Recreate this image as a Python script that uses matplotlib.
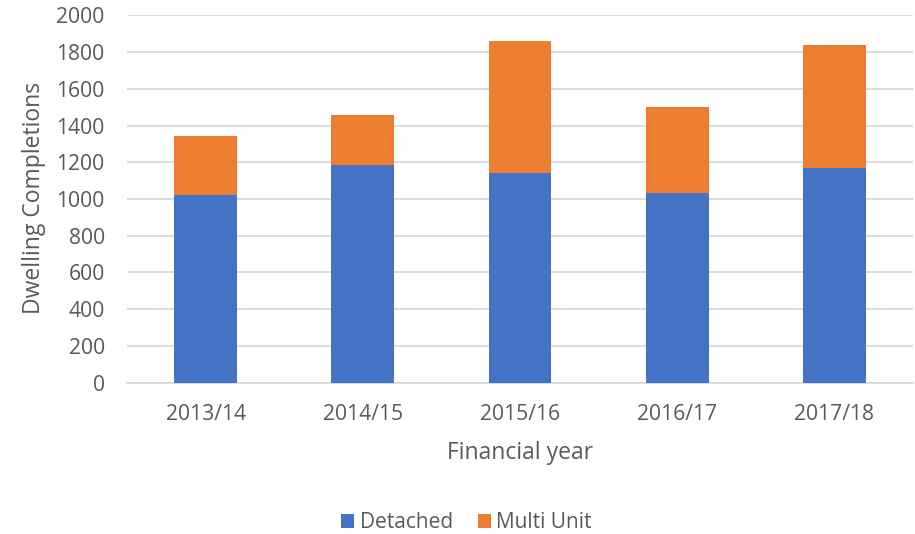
import matplotlib
matplotlib.use("Agg")
import matplotlib.pyplot as plt
from matplotlib.patches import Patch

years = ["2013/14", "2014/15", "2015/16", "2016/17", "2017/18"]
detached = [1024, 1187, 1142, 1035, 1171]
multi_unit = [321, 270, 716, 466, 668]
y_ticks = [0, 200, 400, 600, 800, 1000, 1200, 1400, 1600, 1800, 2000]

plt.rcParams['font.family'] = ['Open Sans', 'DejaVu Sans']
text_col = '#595959'
grid_col = '#d9d9d9'
blue = '#4472C4'
orange = '#ED7D31'

fig = plt.figure(figsize=(9.15, 5.34), dpi=100)
ax = fig.add_axes([127/915, 1-382.7/534, (913-127)/915, (382.7-15.3)/534])

x = list(range(len(years)))
ax.bar(x, detached, width=0.4, color=blue, zorder=3, label='Detached')
ax.bar(x, multi_unit, width=0.4, bottom=detached, color=orange, zorder=3, label='Multi Unit')

ax.set_xlim(-0.5, len(years) - 0.5)
ax.set_ylim(0, 2000)
ax.set_yticks(y_ticks)
ax.set_yticklabels([str(v) for v in y_ticks])
ax.set_xticks(x)
ax.set_xticklabels(years)

ax.yaxis.grid(True, color=grid_col, linewidth=1.3, zorder=0)
ax.set_axisbelow(True)
for s in ['top', 'right', 'left']:
    ax.spines[s].set_visible(False)
ax.spines['bottom'].set_color(grid_col)
ax.spines['bottom'].set_linewidth(1.3)
ax.tick_params(axis='both', length=0, labelsize=15.2, colors=text_col)
ax.tick_params(axis='y', pad=16)
ax.tick_params(axis='x', pad=15.5)

ax.set_ylabel('Dwelling Completions', fontsize=16.5, color=text_col, va='center')
ax.yaxis.set_label_coords((34-127)/786, (382.7-198)/367.4)
ax.set_xlabel('Financial year', fontsize=16.5, color=text_col, va='center')
ax.xaxis.set_label_coords(0.5, (382.7-453)/367.4)

handles = [Patch(facecolor=blue, label='Detached'), Patch(facecolor=orange, label='Multi Unit')]
fig.legend(handles=handles, loc='center', bbox_to_anchor=(466.5/915, 1-523/534), ncol=2,
           frameon=False, fontsize=15, labelcolor=text_col, handlelength=0.63,
           handleheight=0.63, handletextpad=0.25, columnspacing=1.2,
           borderpad=0, borderaxespad=0)

fig.savefig('out.png', dpi=100)
